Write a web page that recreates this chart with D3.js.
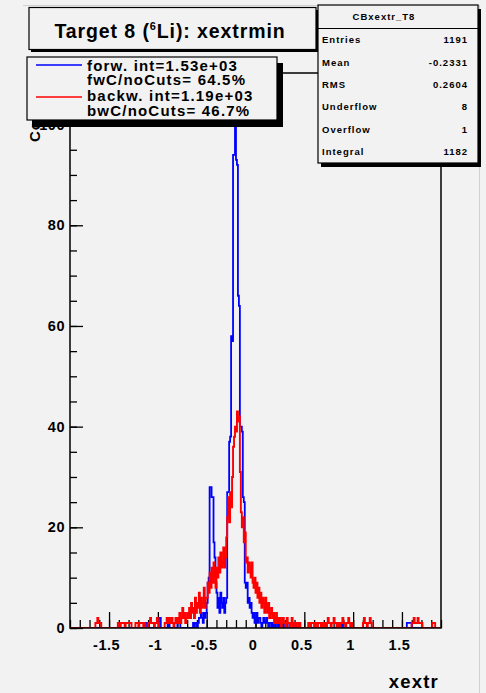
<!DOCTYPE html>
<html>
<head>
<meta charset="utf-8">
<script src="https://cdn.jsdelivr.net/npm/d3@7"></script>
<style>
  body { margin: 0; background: #f2f2f2; }
  svg { display: block; }
  text { font-family: "Liberation Sans", Arial, Helvetica, sans-serif; font-weight: bold; fill: #000; }
</style>
</head>
<body>
<svg id="chart" width="486" height="693"></svg>
<script>
// histogram range, 380 bins of 0.01
var xLo = -1.9, xHi = 1.9, binW = 0.01;

// forward (blue), one row = 20 bins = 0.2 in xextr
var forw = [
  0,0,0,0,0,0,0,0,0,0,0,0,0,0,0,0,0,0,0,0,        // -1.90
  0,0,0,0,0,0,0,0,0,0,0,0,0,0,0,0,0,0,0,0,        // -1.70
  0,0,0,0,0,0,0,0,0,0,0,0,0,0,0,0,0,0,0,0,        // -1.50
  0,0,0,0,0,0,0,0,0,0,0,0,0,0,0,0,0,1,1,0,        // -1.30
  1,0,0,0,0,0,0,0,0,0,0,2,2,0,0,0,0,0,0,0,        // -1.10
  1,1,0,0,0,0,0,0,0,0,2,1,2,0,0,0,0,0,0,0,        // -0.90
  0,0,0,0,0,0,1,0,1,1,0,1,2,2,3,2,1,3,2,3,        // -0.70
  5,9,10,28,28,26,26,17,14,9,7,4,6,3,7,5,4,6,3,5, // -0.50
  6,27,27,37,38,58,57,94,94,105,93,92,66,64,40,40,39,26,25,9, // -0.30
  8,9,5,6,4,5,3,2,3,1,2,3,1,2,2,1,0,1,2,1,        // -0.10
  1,2,1,0,1,1,0,1,0,1,1,0,0,1,0,1,0,0,1,0,        // 0.10
  0,0,1,0,0,0,0,0,0,0,0,0,0,0,0,0,0,0,0,0,        // 0.30
  0,0,0,0,0,0,0,0,0,0,0,0,0,0,0,0,0,0,0,0,        // 0.50
  0,1,1,0,0,0,0,0,0,0,0,0,0,0,0,1,1,0,1,0,        // 0.70
  0,0,0,0,0,0,0,0,0,0,0,0,0,0,0,0,0,0,0,0,        // 0.90
  0,0,0,0,0,0,0,0,0,0,0,0,0,0,0,0,0,0,0,0,        // 1.10
  0,0,0,0,0,0,0,0,0,0,0,0,0,0,0,0,0,0,0,0,        // 1.30
  0,0,0,0,0,1,1,1,1,1,0,0,0,0,0,0,0,0,0,0,        // 1.50
  0,0,0,0,0,0,0,0,0,0,0,0,0,0,0,0,0,0,0,0         // 1.70
];

// backward (red)
var backw = [
  0,0,0,0,0,0,0,0,0,0,0,0,0,0,0,0,0,0,0,0,
  0,0,0,0,0,0,1,1,2,1,1,1,0,0,0,0,0,0,0,0,
  0,0,0,0,0,0,0,0,0,1,1,0,1,1,1,1,0,1,1,1,
  1,1,1,0,0,0,0,1,1,1,0,1,1,1,1,0,1,0,0,0,
  1,1,2,1,1,1,0,1,1,2,1,0,0,0,0,0,0,1,1,2,
  1,2,1,1,2,1,0,1,2,1,1,2,3,1,2,4,2,3,1,2,
  3,2,4,2,5,3,4,2,6,3,5,4,7,3,6,4,5,8,4,6,
  6,9,7,11,8,12,9,13,10,8,12,10,14,11,15,12,13,16,12,14,
  18,22,26,21,27,24,30,36,38,40,39,43,41,42,31,23,20,22,17,19,
  13,14,11,13,12,10,13,9,8,10,7,9,6,8,5,7,4,6,5,3,
  6,4,3,5,2,3,4,2,3,1,2,3,1,2,1,2,0,1,2,1,
  1,0,2,1,1,0,1,2,0,1,1,0,1,1,0,1,0,0,0,0,
  0,0,0,0,1,1,0,1,1,1,0,1,1,0,1,1,1,0,1,0,
  0,1,0,1,2,1,1,0,1,1,2,1,1,0,1,1,0,1,1,2,
  1,1,0,1,1,2,1,0,1,0,0,0,0,0,0,0,0,0,0,0,
  1,2,1,1,0,1,1,2,1,0,0,0,0,0,0,0,0,0,0,0,
  0,0,0,0,0,0,0,0,0,0,0,0,0,0,0,0,0,0,0,0,
  0,0,0,0,0,0,0,0,0,0,1,1,2,1,1,1,2,1,1,1,
  1,0,0,0,0,0,0,0,0,0,0,1,1,1,0,0,0,0,0,0
];

var xTicks = [-1.5, -1, -0.5, 0, 0.5, 1, 1.5];
var yTicks = [0, 20, 40, 60, 80, 100];
var statNames = ["Entries", "Mean", "RMS", "Underflow", "Overflow", "Integral"];
var statValues = ["1191", "-0.2331", "0.2604", "8", "1", "1182"];
var legendText = ["forw. int=1.53e+03", "fwC/noCuts= 64.5%", "backw. int=1.19e+03", "bwC/noCuts= 46.7%"];

var svg = d3.select("#chart");
var L = 70, R = 441, T = 73, B = 628;

var x = d3.scaleLinear().domain([xLo, xHi]).range([L, R]);
var y = d3.scaleLinear().domain([0, 110.25]).range([B, T]);

// page border
svg.append("line").attr("x1", 23).attr("x2", 479).attr("y1", 5.5).attr("y2", 5.5).attr("stroke", "#d0d0d0");
svg.append("line").attr("x1", 479.5).attr("x2", 479.5).attr("y1", 5).attr("y2", 693).attr("stroke", "#d0d0d0");

svg.append("clipPath").attr("id", "fr").append("rect")
  .attr("x", L).attr("y", T).attr("width", R - L).attr("height", B - T);

// minor + major ticks
var yMinor = d3.range(0, 111, 5);
var xMinor = d3.range(-19, 20).map(function(d){ return d / 10; });

svg.append("g").attr("transform", "translate(" + L + ",0)")
  .call(d3.axisLeft(y).tickValues(yMinor).tickSize(-7).tickFormat(""))
  .call(g => g.select(".domain").remove());
svg.append("g").attr("transform", "translate(0," + B + ")")
  .call(d3.axisBottom(x).tickValues(xMinor).tickSize(-8).tickFormat(""))
  .call(g => g.select(".domain").remove());

var yAxis = svg.append("g").attr("class", "y axis").attr("transform", "translate(" + L + ",0)")
  .call(d3.axisLeft(y).tickValues(yTicks).tickSize(-13).tickPadding(5).tickFormat(d3.format("d")));
var xAxis = svg.append("g").attr("class", "x axis").attr("transform", "translate(0," + B + ")")
  .call(d3.axisBottom(x).tickValues(xTicks).tickSize(-16).tickPadding(12).tickFormat(function(d){ return d; }));

svg.selectAll(".axis .domain").remove();
svg.selectAll(".tick line").attr("stroke", "#000").attr("stroke-width", 1.3);
svg.selectAll(".axis .tick text").attr("font-size", 14.5).attr("font-family", null).attr("letter-spacing", 0.5);
xAxis.selectAll(".tick text").attr("dx", -3);

// histograms
var nb = forw.length;
var edges = d3.range(nb + 1).map(function(i){ return xLo + i * binW; });
function stepPoints(vals){
  var p = vals.map(function(v, i){ return [edges[i], v]; });
  p.push([edges[nb], vals[nb - 1]]);
  return p;
}
var step = d3.line().x(d => x(d[0])).y(d => y(d[1])).curve(d3.curveStepAfter);

var hg = svg.append("g").attr("clip-path", "url(#fr)");
hg.append("path").attr("d", step(stepPoints(forw))).attr("fill", "none").attr("stroke", "#0000ff").attr("stroke-width", 1.8);
hg.append("path").attr("d", step(stepPoints(backw))).attr("fill", "none").attr("stroke", "#ff0000").attr("stroke-width", 1.9);

// frame
svg.append("rect").attr("x", L).attr("y", T).attr("width", R - L).attr("height", B - T)
  .attr("fill", "none").attr("stroke", "#000").attr("stroke-width", 1.5);

// axis titles
svg.append("text").attr("transform", "translate(40,142) rotate(-90)")
  .attr("font-size", 15).attr("letter-spacing", 1).text("Counts");
svg.append("text").attr("x", 439).attr("y", 688).attr("text-anchor", "end")
  .attr("font-size", 18.5).attr("letter-spacing", 1.2).text("xextr");

// title box
svg.append("rect").attr("x", 31).attr("y", 10).attr("width", 287).attr("height", 42).attr("fill", "#000");
svg.append("rect").attr("x", 29).attr("y", 7.5).attr("width", 287).attr("height", 42)
  .attr("fill", "#f2f2f2").attr("stroke", "#000").attr("stroke-width", 1.2);
var tt = svg.append("text").attr("x", 170).attr("y", 37.5).attr("text-anchor", "middle")
  .attr("font-size", 19.5).attr("letter-spacing", 0.9);
tt.append("tspan").text("Target 8 (");
tt.append("tspan").attr("font-size", 11).attr("dy", -8).text("6");
tt.append("tspan").attr("dy", 8).text("Li): xextrmin");

// legend
svg.append("rect").attr("x", 32).attr("y", 63).attr("width", 251).attr("height", 64).attr("fill", "#000");
svg.append("rect").attr("x", 27).attr("y", 57).attr("width", 250).attr("height", 63)
  .attr("fill", "#f2f2f2").attr("stroke", "#000").attr("stroke-width", 1.2);
[["#0000ff", 65], ["#ff0000", 97]].forEach(function(s){
  svg.append("line").attr("x1", 36).attr("x2", 82).attr("y1", s[1]).attr("y2", s[1])
    .attr("stroke", s[0]).attr("stroke-width", 1.6);
});
var legY = [71, 85, 101, 116];
legendText.forEach(function(t, i){
  svg.append("text").attr("x", 87).attr("y", legY[i]).attr("font-size", 15)
    .attr("letter-spacing", 1.2).text(t);
});

// stats box
svg.append("rect").attr("x", 321).attr("y", 9).attr("width", 160).attr("height", 158).attr("fill", "#000");
svg.append("rect").attr("x", 318).attr("y", 5).attr("width", 160).attr("height", 158)
  .attr("fill", "#f2f2f2").attr("stroke", "#000").attr("stroke-width", 1.2);
svg.append("line").attr("x1", 318).attr("x2", 478).attr("y1", 28.5).attr("y2", 28.5).attr("stroke", "#000");
svg.append("text").attr("x", 384).attr("y", 20).attr("text-anchor", "middle")
  .attr("font-size", 9.5).attr("letter-spacing", 1).text("CBxextr_T8");
var statY = [43.3, 65.6, 88.3, 110, 132.6, 155];
statNames.forEach(function(n, i){
  svg.append("text").attr("x", 322).attr("y", statY[i]).attr("font-size", 9.5).attr("letter-spacing", 1).text(n);
  svg.append("text").attr("x", 468).attr("y", statY[i]).attr("text-anchor", "end")
    .attr("font-size", 9.5).attr("letter-spacing", 1).text(statValues[i]);
});
</script>
</body>
</html>
